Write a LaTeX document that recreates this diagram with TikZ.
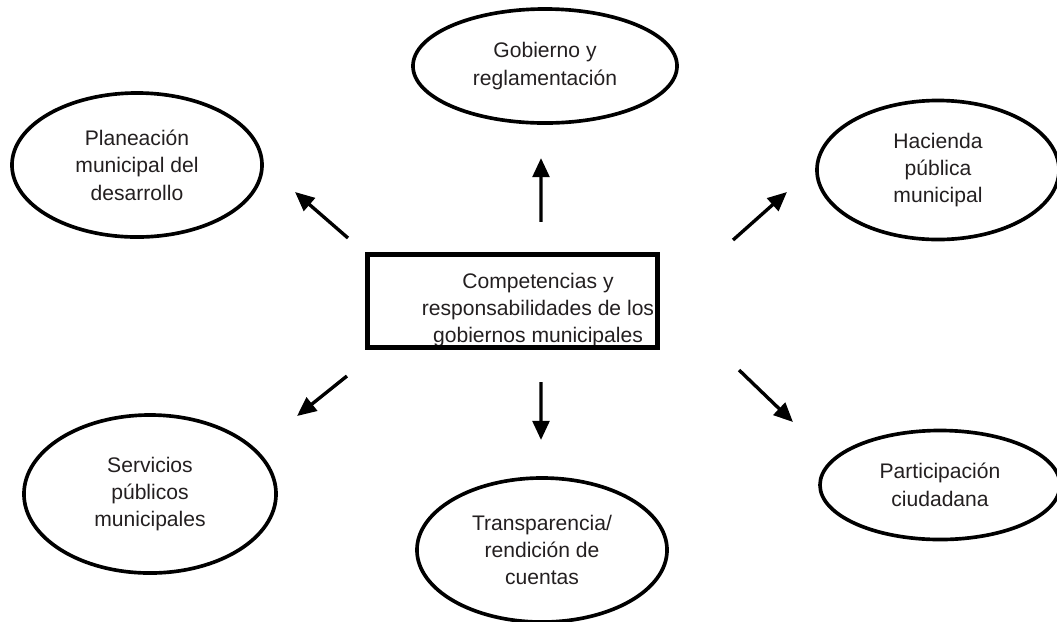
\documentclass[tikz,border=0pt]{standalone}
\usepackage{fontspec}
\setmainfont{Liberation Sans}
\usepackage{tikz}
\usetikzlibrary{arrows.meta,shapes.geometric}
\definecolor{colorline}{RGB}{0,0,0}
\definecolor{colortext}{RGB}{35,31,32}

\begin{document}
\begin{tikzpicture}[
    x=0.025cm, y=-0.025cm,
    font={\fontsize{15}{19.5}\selectfont},
    topic/.style={ellipse,draw=colorline,line width=2.6pt,text=colortext,align=center,inner sep=0pt,outer sep=0pt},
    core/.style={rectangle,draw=colorline,line width=3.2pt,inner sep=0pt,outer sep=0pt,minimum width=7.25cm,minimum height=2.325cm},
    coretext/.style={text=colortext,align=center,inner sep=0pt},
    link/.style={-{Triangle[length=0.48cm,width=0.42cm]},line width=2.4pt,draw=colorline},
]
    \useasboundingbox (0,0) rectangle (1057,621);

    % Topics
    \node[topic, minimum width=6.6cm,  minimum height=2.85cm]  (gov)   at (545,66)  {Gobierno y\\reglamentación};
    \node[topic, minimum width=6.25cm, minimum height=3.6cm]   (plan)  at (137,165) {Planeación\\municipal del\\desarrollo};
    \node[topic, minimum width=6.05cm, minimum height=3.475cm] (hac)   at (938,170) {Hacienda\\pública\\municipal};
    \node[topic, minimum width=6.3cm,  minimum height=3.95cm]  (serv)  at (150,494) {Servicios\\públicos\\municipales};
    \node[topic, minimum width=6.25cm, minimum height=3.6cm]   (trans) at (542,550) {Transparencia/\\rendición de\\cuentas};
    \node[topic, minimum width=6.0cm,  minimum height=2.725cm] (part)  at (940,485) {Participación\\ciudadana};

    % Central box
    \node[coretext] (comptext) at (538,310) {Competencias y\\responsabilidades de los\\gobiernos municipales};
    \node[core] (comp) at (512.5,301) {};

    % Relations
    \draw[link] ([shift={(-19.5,-16.5)}]comp.north west) -- ([shift={(33,27)}]plan.east);
    \draw[link] ([shift={(28.5,-32.5)}]comp.north) -- ([shift={(-4,35)}]gov.south);
    \draw[link] ([shift={(75.5,-14.5)}]comp.north east) -- ([shift={(-30,22)}]hac.west);
    \draw[link] ([shift={(-20.5,28.5)}]comp.south west) -- ([shift={(21,-78)}]serv.east);
    \draw[link] ([shift={(28.5,34.5)}]comp.south) -- ([shift={(-1,-38)}]trans.north);
    \draw[link] ([shift={(81.5,22.5)}]comp.south east) -- ([shift={(-27,-63)}]part.west);

\end{tikzpicture}
\end{document}
